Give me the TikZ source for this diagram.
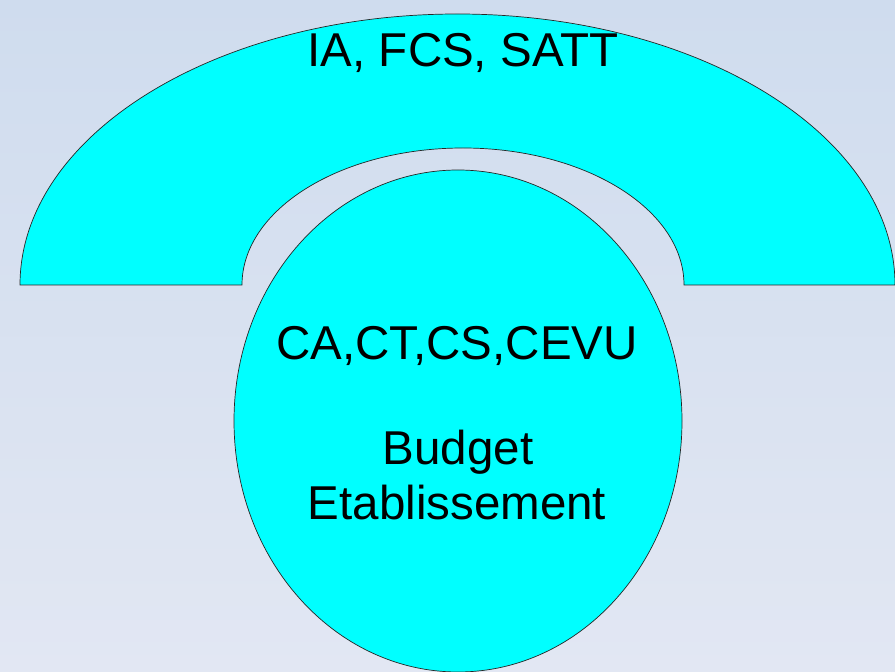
\documentclass[tikz,border=0pt]{standalone}
\usepackage{fontspec}
\setmainfont{Liberation Sans}
\usetikzlibrary{shapes.geometric}
\definecolor{bgtop}{RGB}{207,220,238}
\definecolor{bgbot}{RGB}{226,231,243}
\definecolor{cyanfill}{RGB}{0,255,255}
\tikzset{
  shapefill/.style={fill=cyanfill, draw=black!85, line width=0.7pt},
  lbl/.style={font=\fontsize{47.5}{57}\selectfont, text=black, inner sep=0pt}
}
\begin{document}
\begin{tikzpicture}
\shade[top color=bgtop, bottom color=bgbot] (0pt,0pt) rectangle (895pt,672pt);
\useasboundingbox (0pt,0pt) rectangle (895pt,672pt);
% arch
\path[shapefill] (20pt,387pt) arc[start angle=180, end angle=0, x radius=437.5pt, y radius=271pt]
  -- (684pt,387pt) arc[start angle=0, end angle=180, x radius=221pt, y radius=137pt] -- cycle;
% ellipse
\node[ellipse, shapefill, minimum width=448pt, minimum height=502pt, inner sep=0pt] (ell) at (458pt,251pt) {};
\node[lbl, anchor=base] (top) at (463pt,605pt) {IA, FCS, SATT};
\node[lbl, anchor=base] (ca) at (457pt,312pt) {CA,CT,CS,CEVU};
\node[lbl, anchor=base] (bud) at (458pt,207pt) {Budget};
\node[lbl, anchor=base] (eta) at (457pt,152pt) {Etablissement};
\end{tikzpicture}
\end{document}
